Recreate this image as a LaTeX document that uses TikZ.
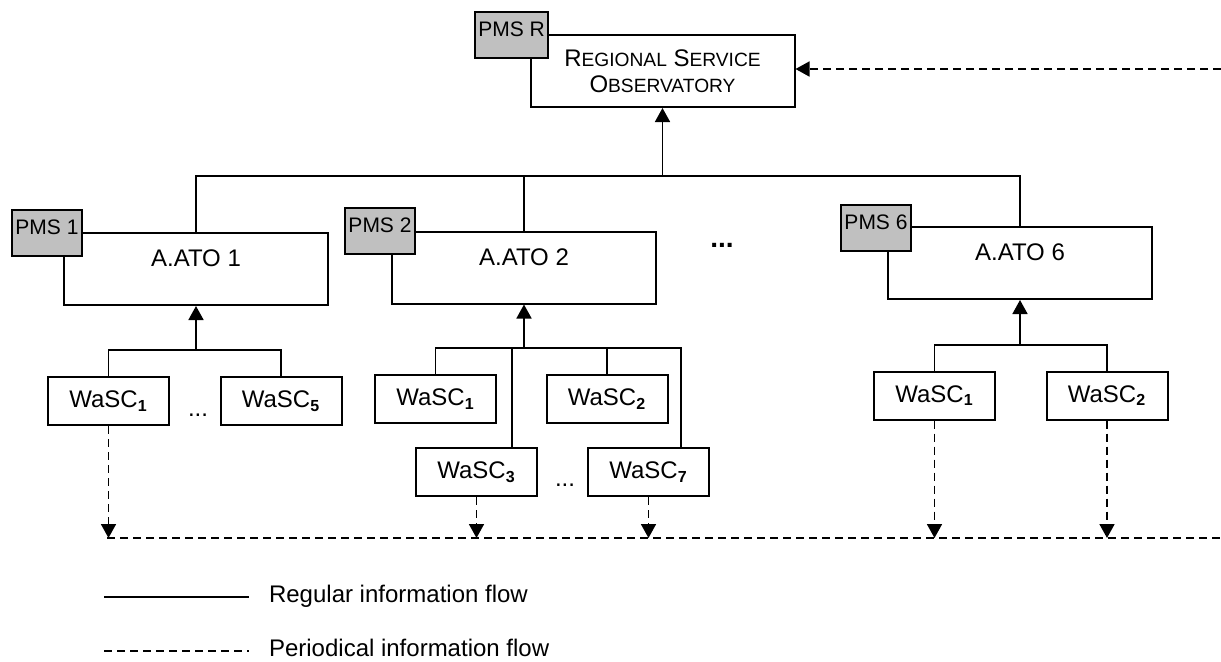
\documentclass[tikz,border=0pt]{standalone}
\usepackage{fontspec}
\setmainfont{Liberation Sans}
\usepackage{tikz}
\usetikzlibrary{positioning, arrows.meta}
\definecolor{pmsgray}{HTML}{C0C0C0}
\newcommand{\scfont}{\fontsize{9.6}{13}\selectfont}

\begin{document}
\begin{tikzpicture}[
  x=0.5pt, y=-0.5pt,
  every node/.style={font=\fontsize{12}{13}\selectfont},
  obsnode/.style={draw, line width=1pt, minimum width=132pt, minimum height=36pt,
                  inner sep=0pt, align=center},
  atonode/.style={draw, line width=1pt, minimum width=132pt, minimum height=36pt,
                  inner sep=0pt, text height=16.75pt, text depth=19.25pt},
  pmsnode/.style={draw, line width=1pt, fill=pmsgray, anchor=south east,
                  minimum width=35pt, inner xsep=1.6pt, inner ysep=0pt,
                  text height=12pt, text depth=11pt, font=\fontsize{10.5}{12}\selectfont},
  wascnode/.style={draw, line width=1pt, minimum width=60.5pt, minimum height=24pt,
                   inner sep=0pt},
  regular/.style={line width=0.85pt},
  periodic/.style={line width=0.85pt, dash pattern=on 4pt off 2.5pt},
  tip/.style={-{Triangle[length=7pt, width=7.5pt]}}
]
  \useasboundingbox (0,0) rectangle (1221,661);

  % observatory
  \node[obsnode] (rso) at (662.5,71) {R{\scfont EGIONAL} S{\scfont ERVICE}\\O{\scfont BSERVATORY}};
  \node[pmsnode] (pmsr) at (549,59) {PMS R};

  % area authorities
  \node[atonode] (ato1) at (196,269) {A.ATO 1};
  \node[atonode] (ato2) at (524,267.5) {A.ATO 2};
  \node[atonode] (ato6) at (1020,263) {A.ATO 6};
  \node[pmsnode] (pms1) at (83,257) {PMS 1};
  \node[pmsnode] (pms2) at (416,255) {PMS 2};
  \node[pmsnode] (pms6) at (912,252) {PMS 6};
  \node[anchor=base, font=\fontsize{14}{16}\selectfont\bfseries] (dotsato) at (722,247) {...};

  % water service companies
  \node[wascnode] (w11) at (108.5,401) {WaSC\textsubscript{\textbf{1}}};
  \node[wascnode] (w15) at (281,401) {WaSC\textsubscript{\textbf{5}}};
  \node[anchor=base] (dots1) at (198,416) {...};

  \node[wascnode] (w21) at (435.5,399) {WaSC\textsubscript{\textbf{1}}};
  \node[wascnode] (w22) at (607,399) {WaSC\textsubscript{\textbf{2}}};
  \node[wascnode] (w23) at (476.5,472) {WaSC\textsubscript{\textbf{3}}};
  \node[wascnode] (w27) at (648.5,472) {WaSC\textsubscript{\textbf{7}}};
  \node[anchor=base] (dots2) at (565,486) {...};

  \node[wascnode] (w61) at (934.5,395.5) {WaSC\textsubscript{\textbf{1}}};
  \node[wascnode] (w62) at (1107,395.5) {WaSC\textsubscript{\textbf{2}}};

  % regular flow
  \coordinate (bus) at (0,176);
  \draw[regular] (ato1.north) -- (ato1.north |- bus) -- (ato6.north |- bus) -- (ato6.north);
  \draw[regular] (ato2.north) -- (ato2.north |- bus);
  \draw[regular, tip] (rso.south |- bus) -- (rso.south);

  \coordinate (sub1) at (0,350);
  \draw[regular] (w11.north) -- (w11.north |- sub1) -- (w15.north |- sub1) -- (w15.north);
  \draw[regular, tip] (ato1.south |- sub1) -- (ato1.south);

  \coordinate (sub2) at (0,348);
  \coordinate (j23) at (512,348);
  \coordinate (j27) at (681,348);
  \draw[regular] (w21.north) -- (w21.north |- sub2) -- (j27) -- (j27 |- w27.north);
  \draw[regular] (w22.north) -- (w22.north |- sub2);
  \draw[regular] (j23) -- (j23 |- w23.north);
  \draw[regular, tip] (ato2.south |- sub2) -- (ato2.south);

  \coordinate (sub6) at (0,345);
  \draw[regular] (w61.north) -- (w61.north |- sub6) -- (w62.north |- sub6) -- (w62.north);
  \draw[regular, tip] (ato6.south |- sub6) -- (ato6.south);

  % periodical flow
  \coordinate (base) at (107,538);
  \coordinate (baseend) at (1221,538);
  \draw[periodic] (base) -- (baseend);
  \foreach \w in {w11,w23,w27,w61,w62}{
    \draw[periodic, tip] (\w.south) -- (\w.south |- base);
  }
  \coordinate (feedin) at (1221,69);
  \draw[periodic, tip] (feedin) -- (rso.east |- feedin);

  % legend
  \coordinate (lg1) at (104,597);
  \coordinate (lg2) at (104,651);
  \node[anchor=west] (regtext) at (262,596) {Regular information flow};
  \node[anchor=west] (pertext) at (262,648) {Periodical information flow};
  \draw[regular] (lg1) -- ++(145,0);
  \draw[periodic] (lg2) -- ++(145,0);
\end{tikzpicture}
\end{document}
